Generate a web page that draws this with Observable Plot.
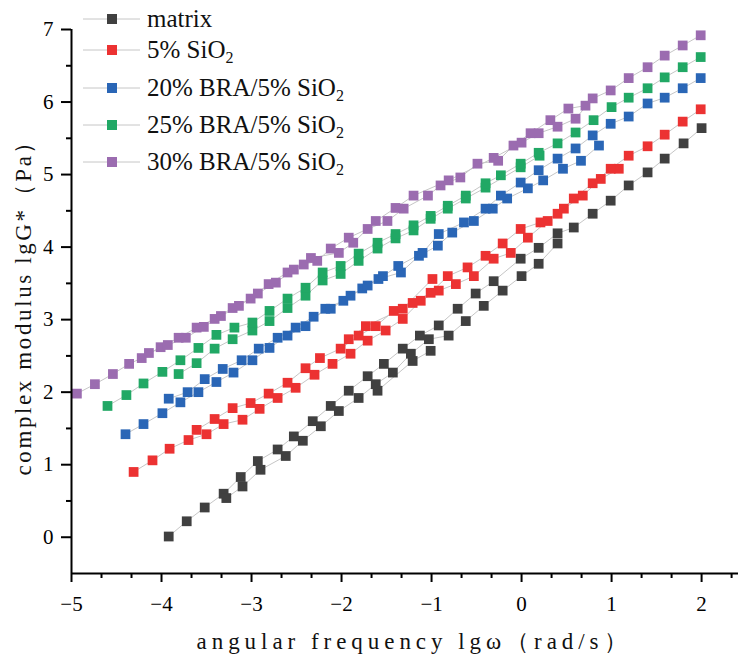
<!DOCTYPE html>
<html><head><meta charset="utf-8">
<script src="https://cdn.jsdelivr.net/npm/d3@7"></script>
<script src="https://cdn.jsdelivr.net/npm/@observablehq/plot@0.6"></script>
<style>
body{margin:0;background:#fff;}
#wrap{position:relative;width:738px;height:655px;}
#legend{position:absolute;left:0;top:0;font-family:"Liberation Serif",serif;font-size:25px;color:#111;}
.row{position:absolute;left:83px;height:30px;display:flex;align-items:center;white-space:nowrap;}
.row svg{margin-right:7px;}
sub{font-size:16px;vertical-align:-5px;line-height:0;}
</style></head><body><div id="wrap"><div id="legend"></div></div>
<script>
// series names and colours
const seriesNames = ["matrix","5% SiO2","20% BRA/5% SiO2","25% BRA/5% SiO2","30% BRA/5% SiO2"];
const seriesColors = ["#404040","#ec3232","#2a66b6","#21a865","#9b6cb0"];
const xTicks = [-5,-4,-3,-2,-1,0,1,2];
const yTicks = [0,1,2,3,4,5,6,7];
const xTitle = "angular frequency lgω（rad/s）";
const yTitle = "complex modulus lgG*（Pa）";

// matrix
const mA_x = [-3.92,-3.72,-3.52,-3.31,-3.12,-2.93,-2.71,-2.53,-2.32,-2.12,-1.92,-1.71,-1.53,-1.32,-1.13,-0.92,-0.71,-0.51,-0.31,-0.01,0.19,0.40,0.58,0.79,0.99,1.19,1.40,1.59,1.80,2.00];
const mA_y = [0.01,0.22,0.41,0.60,0.83,1.05,1.21,1.39,1.60,1.81,2.02,2.22,2.39,2.60,2.78,2.92,3.15,3.36,3.53,3.84,3.99,4.19,4.27,4.46,4.64,4.85,5.03,5.22,5.43,5.64];
const mB_x = [-3.28,-3.10,-2.90,-2.62,-2.43,-2.23,-2.03,-1.81,-1.62,-1.43,-1.23,-1.03,-0.81,-0.62,-0.42,-0.21,0.00,0.19,0.40];
const mB_y = [0.54,0.70,0.93,1.12,1.33,1.53,1.74,1.92,2.11,2.27,2.53,2.73,2.78,2.98,3.19,3.40,3.60,3.77,4.05];
const mC_x = [-1.60,-1.21,-1.01];
const mC_y = [2.02,2.43,2.57];
// 5% SiO2
const rA_x = [-4.31,-4.10,-3.91,-3.70,-3.50,-3.31,-3.10,-2.91,-2.71,-2.51,-2.30,-2.10,-1.90,-1.71,-1.51,-1.32,-1.12,-0.92,-0.73,-0.53,-0.31,-0.12,0.07,0.29,0.47,0.68,0.88,1.08];
const rA_y = [0.90,1.06,1.22,1.34,1.42,1.56,1.62,1.77,1.92,2.06,2.24,2.39,2.53,2.71,2.85,3.01,3.26,3.40,3.49,3.60,3.84,3.92,4.13,4.36,4.53,4.71,4.94,5.08];
const rB_x = [-3.61,-3.41,-3.21,-3.01,-2.81,-2.60,-2.40,-2.24,-2.01,-1.81,-1.62,-1.42,-1.21,-1.01,-0.82,-0.60,-0.40,-0.21,-0.01,0.21,0.40,0.58,0.79,0.99,1.19,1.40,1.59,1.79,1.99];
const rB_y = [1.48,1.63,1.78,1.85,1.98,2.13,2.33,2.47,2.60,2.78,2.91,3.12,3.23,3.37,3.60,3.72,3.88,4.05,4.25,4.34,4.46,4.67,4.88,5.08,5.26,5.39,5.55,5.73,5.90];
const rC_x = [-1.92,-1.73,-1.32,-0.99];
const rC_y = [2.73,2.91,3.15,3.56];
// 20% BRA/5% SiO2
const bA_x = [-4.40,-4.20,-3.99,-3.79,-3.59,-3.39,-3.20,-2.99,-2.80,-2.60,-2.40,-2.18,-1.98,-1.77,-1.59,-1.34,-1.14,-0.93,-0.77,-0.53,-0.32,-0.16,0.07,0.24,0.46,0.66,0.86];
const bA_y = [1.42,1.56,1.71,1.86,2.00,2.14,2.27,2.44,2.61,2.78,2.91,3.15,3.26,3.43,3.56,3.65,3.88,4.02,4.20,4.36,4.53,4.67,4.81,4.92,5.08,5.19,5.40];
const bB_x = [-3.92,-3.71,-3.52,-3.32,-3.11,-2.92,-2.71,-2.51,-2.31,-2.12,-1.90,-1.71,-1.54,-1.37,-1.10,-0.92,-0.64,-0.40,-0.23,-0.01,0.19,0.40,0.60,0.79,0.99,1.19,1.40,1.59,1.79,1.99];
const bB_y = [1.91,2.00,2.18,2.32,2.44,2.60,2.75,2.89,3.04,3.15,3.33,3.47,3.60,3.74,3.92,4.18,4.34,4.53,4.71,4.89,5.06,5.22,5.36,5.54,5.70,5.80,5.98,6.06,6.19,6.33];
// 25% BRA/5% SiO2
const gA_x = [-3.81,-3.61,-3.41,-3.21,-2.99,-2.80,-2.60,-2.40,-2.21,-2.01,-1.81,-1.60,-1.40,-1.20,-1.01,-0.82,-0.62,-0.40,-0.01,0.20];
const gA_y = [2.25,2.40,2.60,2.73,2.85,2.98,3.16,3.33,3.54,3.63,3.81,3.98,4.12,4.23,4.39,4.53,4.67,4.82,5.10,5.26];
const gB_x = [-4.60,-4.39,-4.20,-3.99,-3.79,-3.59,-3.39,-3.19,-2.99,-2.80,-2.60,-2.40,-2.21,-2.01,-1.81,-1.60,-1.40,-1.20,-1.01,-0.82,-0.62,-0.40,-0.23,-0.01,0.19,0.40,0.60,0.80,1.00,1.19,1.40,1.59,1.79,1.99];
const gB_y = [1.81,1.96,2.12,2.28,2.44,2.61,2.79,2.89,2.96,3.12,3.29,3.44,3.65,3.74,3.91,4.06,4.18,4.30,4.43,4.57,4.71,4.88,4.99,5.15,5.30,5.43,5.58,5.75,5.93,6.06,6.19,6.34,6.48,6.62];
// 30% BRA/5% SiO2
const pA_x = [-4.94,-4.74,-4.54,-4.36,-4.22,-4.01,-3.81,-3.61,-3.41,-3.21,-3.01,-2.81,-2.60,-2.42,-2.27,-2.12,-1.92,-1.71,-1.49,-1.31,-1.04,-0.90,-0.68,-0.49,-0.26,-0.09,0.10,0.32,0.52,0.71];
const pA_y = [1.98,2.11,2.25,2.39,2.47,2.62,2.75,2.89,3.01,3.16,3.29,3.49,3.65,3.76,3.81,3.98,4.13,4.25,4.36,4.53,4.71,4.85,4.96,5.15,5.19,5.40,5.57,5.75,5.91,5.95];
const pB_x = [-4.14,-3.93,-3.73,-3.53,-3.34,-3.14,-2.93,-2.73,-2.53,-2.34,-2.03,-1.87,-1.62,-1.40,-1.20,-0.81,-0.31,0.00,0.19,0.40,0.60,0.79,0.99,1.19,1.40,1.59,1.79,1.99];
const pB_y = [2.54,2.65,2.75,2.90,3.05,3.19,3.36,3.51,3.69,3.85,3.92,4.06,4.36,4.54,4.71,4.92,5.23,5.44,5.57,5.66,5.77,6.05,6.16,6.33,6.48,6.64,6.78,6.92];

const runs = [
  [0,mA_x,mA_y],[0,mB_x,mB_y],[0,mC_x,mC_y],
  [1,rA_x,rA_y],[1,rB_x,rB_y],[1,rC_x,rC_y],
  [2,bA_x,bA_y],[2,bB_x,bB_y],
  [3,gA_x,gA_y],[3,gB_x,gB_y],
  [4,pA_x,pA_y],[4,pB_x,pB_y]
];
const rows = runs.flatMap(([s,xs,ys],i) => xs.map((x,j) => ({series: seriesNames[s], run: i, x, y: ys[j]})));

const minorX = d3.range(-5, 2.41, 1/3).filter(v => Math.abs(v - Math.round(v)) > 0.01);
const minorY = d3.range(0.5, 7, 1);
const fmt = d => d < 0 ? "\u2212" + Math.abs(d) : String(d);

const chart = Plot.plot({
  width: 738, height: 655,
  marginLeft: 71, marginRight: 0, marginTop: 29, marginBottom: 82,
  x: {domain: [-5, 2.41]},
  y: {domain: [-0.5, 7]},
  color: {domain: seriesNames, range: seriesColors},
  style: {fontFamily: "'Liberation Serif', serif", fontSize: "21px", color: "#000", background: "#fff", overflow: "visible"},
  marks: [
    Plot.line(rows, {x: "x", y: "y", z: "run", stroke: "#c6c6c6", strokeWidth: 1}),
    Plot.dot(rows, {x: "x", y: "y", fill: "series", symbol: "square", r: 5.5}),
    Plot.axisX(minorX, {tickSize: 5, tickFormat: () => "", label: null, strokeWidth: 2}),
    Plot.axisX(xTicks, {tickSize: 9, tickPadding: 14, tickFormat: fmt, label: null, strokeWidth: 2, fontSize: 21}),
    Plot.axisY(minorY, {tickSize: 5, tickFormat: () => "", label: null, strokeWidth: 2}),
    Plot.axisY(yTicks, {tickSize: 10, tickPadding: 8, tickFormat: fmt, label: null, strokeWidth: 2, fontSize: 21}),
    Plot.ruleY([-0.5], {stroke: "#000", strokeWidth: 2}),
    Plot.ruleX([-5], {stroke: "#000", strokeWidth: 2}),
    Plot.text([xTitle], {frameAnchor: "bottom-left", dx: 125, dy: 68, textAnchor: "start", text: d => d, fontSize: 23, lineAnchor: "middle", fill: "#111"}),
    Plot.text([yTitle], {frameAnchor: "left", dx: -48, dy: 174, textAnchor: "start", rotate: -90, text: d => d, fontSize: 23, lineAnchor: "middle", fill: "#111"})
  ]
});
const wrap = document.getElementById("wrap");
wrap.insertBefore(chart, wrap.firstChild);
// stretch the axis titles to the reference's wide, evenly spaced lettering
chart.querySelectorAll("text").forEach(t => {
  if (t.textContent === xTitle) { t.setAttribute("textLength", "430"); t.setAttribute("lengthAdjust", "spacing"); }
  if (t.textContent === yTitle) { t.setAttribute("textLength", "345"); t.setAttribute("lengthAdjust", "spacing"); }
});

// legend
const legendCenters = [19, 50, 88, 125, 162];
const legend = document.getElementById("legend");
seriesNames.forEach((name, i) => {
  const row = document.createElement("div");
  row.className = "row";
  row.style.top = (legendCenters[i] - 15) + "px";
  const label = name.replace(/SiO2/g, "SiO<sub>2</sub>");
  row.innerHTML = `<svg width="57" height="12"><line x1="0" x2="57" y1="6" y2="6" stroke="#c6c6c6" stroke-width="1"/><rect x="24" y="1" width="10" height="10" fill="${seriesColors[i]}"/></svg><span>${label}</span>`;
  legend.appendChild(row);
});
</script>
</body></html>
